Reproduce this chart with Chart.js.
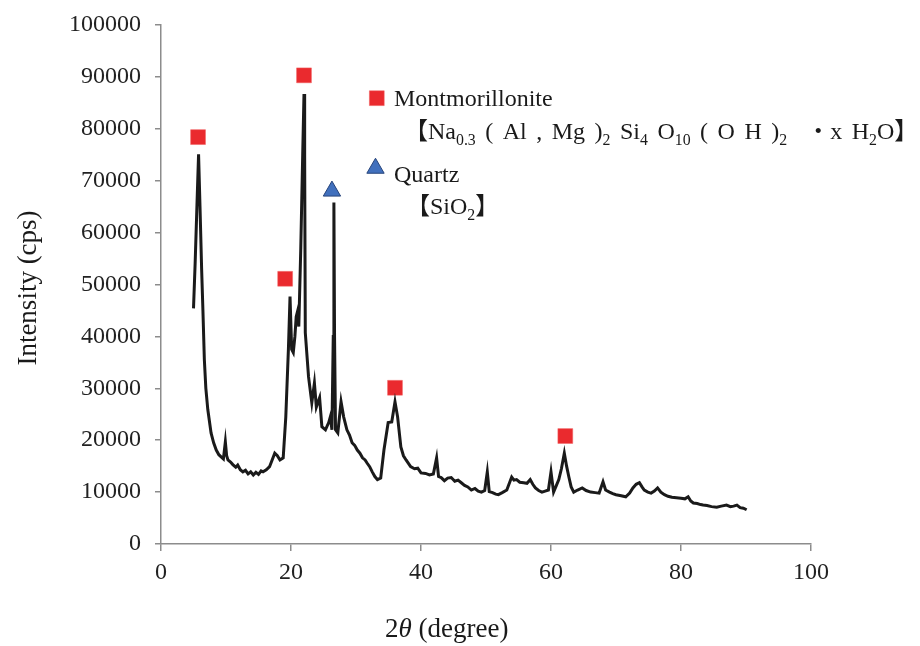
<!DOCTYPE html>
<html lang="en">
<head>
<meta charset="UTF-8">
<title>XRD pattern</title>
<script src="https://cdn.jsdelivr.net/npm/chart.js"></script>
<style>
  html, body { margin: 0; padding: 0; background: #fff; }
  #wrap { width: 920px; height: 646px; position: relative; }
</style>
</head>
<body>
<div id="wrap"><canvas id="xrd"></canvas></div>
<script>
// diffraction pattern
const twoTheta = [5.0, 5.25, 5.5, 5.78, 6.0, 6.25, 6.45, 6.67, 6.9, 7.2, 7.7, 8.1, 8.5, 8.9, 9.25, 9.6, 9.9, 10.1, 10.3, 10.7,
  11.05, 11.5, 11.8, 12.2, 12.6, 13.0, 13.4, 13.8, 14.2, 14.6, 15.0, 15.4, 15.7, 16.2, 16.7, 17.1, 17.5, 17.9, 18.3, 18.8,
  19.2, 19.6, 19.85, 20.1, 20.35, 20.6, 20.8, 21.0, 21.2, 21.5, 21.8, 22.0, 22.1, 22.2, 22.7, 23.2, 23.6, 23.9, 24.4, 24.75,
  25.3, 25.8, 26.05, 26.3, 26.5, 26.6, 26.7, 26.85, 27.2, 27.7, 28.1, 28.6, 29.0, 29.4, 29.8, 30.2, 30.6, 31.0, 31.4, 31.7,
  32.1, 32.5, 32.9, 33.3, 33.8, 34.3, 34.95, 35.5, 36.0, 36.4, 36.9, 37.3, 37.7, 38.4, 39.0, 39.5, 40.0, 40.7, 41.3, 41.9,
  42.4, 42.7, 43.1, 43.6, 44.1, 44.65, 45.2, 45.7, 46.2, 46.7, 47.2, 47.75, 48.3, 48.8, 49.3, 49.8, 50.2, 50.5, 51.0, 51.5,
  51.9, 52.5, 53.2, 53.95, 54.3, 54.7, 55.2, 55.8, 56.3, 56.8, 57.2, 57.6, 58.1, 58.6, 59.1, 59.6, 60.0, 60.4, 60.8, 61.2,
  61.6, 62.05, 62.4, 62.75, 63.1, 63.5, 64.1, 64.8, 65.4, 66.1, 66.8, 67.4, 68.0, 68.4, 69.0, 69.5, 70.0, 70.8, 71.5, 72.1,
  72.6, 73.1, 73.6, 74.0, 74.35, 74.9, 75.4, 75.9, 76.4, 76.9, 77.45, 78.0, 78.6, 79.3, 80.0, 80.6, 81.1, 81.5, 81.9, 82.5,
  83.0, 83.4, 84.0, 84.7, 85.5, 86.2, 87.0, 87.6, 88.1, 88.6, 89.1, 89.6, 90.1];
const intensity = [45400, 54000, 64000, 75100, 65000, 53000, 45000, 35500, 30000, 25900, 21400, 19500, 18100, 17200, 16800, 16400, 19700, 17000, 16200, 15800,
  15300, 14800, 15200, 14300, 13900, 14200, 13500, 13900, 13300, 13800, 13400, 14100, 13900, 14300, 14900, 16200, 17500, 17000, 16200, 16600,
  24500, 37500, 47700, 37500, 36900, 40000, 43800, 44800, 41900, 56800, 75000, 86700, 75000, 40700, 32200, 27200, 31000, 26400, 28200, 22600,
  22000, 23400, 24500, 22000, 40000, 65800, 40000, 22000, 21400, 27400, 24500, 22000, 21000, 19500, 19000, 18100, 17500, 16600, 16200, 15600,
  14900, 13900, 13000, 12400, 12700, 18100, 23400, 23500, 27400, 24500, 18700, 17000, 16200, 14900, 14500, 14600, 13700, 13600, 13300, 13500,
  16600, 13000, 12800, 12200, 12700, 12800, 12100, 12300, 11800, 11300, 11000, 10400, 10700, 10200, 10000, 10300, 13900, 10100, 9900, 9600,
  9500, 9900, 10400, 12900, 12300, 12400, 11900, 11800, 11700, 12400, 11500, 10800, 10300, 10000, 10200, 10400, 13900, 10000, 11200, 12400,
  14500, 17500, 15000, 12900, 11000, 10000, 10400, 10800, 10300, 10000, 9900, 9800, 12000, 10400, 10000, 9700, 9500, 9300, 9100, 9800,
  10800, 11500, 11800, 11000, 10400, 10000, 9800, 10200, 10800, 10000, 9500, 9200, 9000, 8900, 8800, 8700, 9100, 8300, 7900, 7800,
  7600, 7500, 7400, 7200, 7100, 7300, 7500, 7200, 7300, 7500, 7000, 6900, 6600];

// peak markers (the last one of each is the key marker)
const montX = [5.7, 19.1, 22.0, 36.0, 62.2, 33.2];
const montY = [78400, 51100, 90300, 30100, 20800, 85900];
const quartzX = [26.3, 33.0];
const quartzY = [68000, 72400];

const xTicks = [0, 20, 40, 60, 80, 100];

const serif = '"Liberation Serif", "Times New Roman", serif';
const cjk = '"Liberation Serif", "Noto Sans CJK JP", serif';

// parts: [text, isSub, isItalic]; spaces advance by spaceW when given
function drawRich(ctx, x, y, parts, size, spaceW) {
  parts.forEach(function (p) {
    const sub = p[1] === 1;
    const fs = sub ? size * 0.66 : size;
    ctx.font = (p[2] ? 'italic ' : '') + fs + 'px ' + cjk;
    const yy = sub ? y + size * 0.24 : y;
    if (spaceW) {
      p[0].split(' ').forEach(function (w, i) {
        if (i > 0) x += spaceW;
        ctx.fillText(w, x, yy);
        x += ctx.measureText(w).width;
      });
    } else {
      ctx.fillText(p[0], x, yy);
      x += ctx.measureText(p[0]).width;
    }
  });
}

const textPlugin = {
  id: 'texts',
  afterDraw(chart) {
    const ctx = chart.ctx;
    ctx.save();
    ctx.fillStyle = '#1a1a1a';
    ctx.textAlign = 'left';
    ctx.textBaseline = 'alphabetic';
    drawRich(ctx, 394, 106, [['Montmorillonite']], 24);
    drawRich(ctx, 404, 139, [['【Na'], ['0.3', 1], [' ( Al , Mg )'], ['2', 1], [' Si'], ['4', 1], [' O'], ['10', 1],
      [' ( O H )'], ['2', 1], ['  ・x H'], ['2', 1], ['O】']], 24, 9.5);
    drawRich(ctx, 394, 182, [['Quartz']], 24);
    drawRich(ctx, 406, 214, [['【SiO'], ['2', 1], ['】']], 24);

    // axis titles
    drawRich(ctx, 385, 637, [['2'], ['θ', 0, true], [' (degree)']], 27);
    ctx.translate(36, 288);
    ctx.rotate(-Math.PI / 2);
    ctx.textAlign = 'center';
    ctx.font = '27px ' + serif;
    ctx.fillText('Intensity (cps)', 0, 0);
    ctx.restore();
  }
};

const axisGrey = '#8c8c8c';

new Chart(document.getElementById('xrd'), {
  type: 'scatter',
  data: {
    datasets: [
      {
        label: 'pattern',
        data: twoTheta.map((t, i) => ({ x: t, y: intensity[i] })),
        showLine: true,
        borderColor: '#1a1a1a',
        borderWidth: 3,
        pointRadius: 0,
        tension: 0
      },
      {
        label: 'Montmorillonite',
        data: montX.map((t, i) => ({ x: t, y: montY[i] })),
        pointStyle: 'rect',
        pointRadius: 10.5,
        backgroundColor: '#ea2a2e',
        borderColor: '#f06060',
        borderWidth: 0.5
      },
      {
        label: 'Quartz',
        data: quartzX.map((t, i) => ({ x: t, y: quartzY[i] })),
        pointStyle: 'triangle',
        pointRadius: 10,
        backgroundColor: '#4170bd',
        borderColor: '#27447a',
        borderWidth: 1
      }
    ]
  },
  options: {
    responsive: true,
    maintainAspectRatio: false,
    animation: false,
    layout: { padding: { top: 25, right: 109, left: 0, bottom: 0 } },
    plugins: {
      legend: { display: false },
      tooltip: { enabled: false }
    },
    scales: {
      x: {
        type: 'linear',
        min: 0,
        max: 100,
        afterFit(s) { s.height = 102; },
        afterBuildTicks(s) { s.ticks = xTicks.map(v => ({ value: v })); },
        border: { color: axisGrey, width: 1.5 },
        grid: { drawOnChartArea: false, color: axisGrey, lineWidth: 1.5, tickLength: 7 },
        ticks: { color: '#222', padding: 7, font: { family: serif, size: 24 } }
      },
      y: {
        min: 0,
        max: 100000,
        afterFit(s) { s.width = 161; s.paddingTop = 0; },
        border: { color: axisGrey, width: 1.5 },
        grid: { drawOnChartArea: false, color: axisGrey, lineWidth: 1.5, tickLength: 6 },
        ticks: { color: '#222', stepSize: 10000, padding: 14, font: { family: serif, size: 24, lineHeight: 1 },
          callback: v => String(v) }
      }
    }
  },
  plugins: [textPlugin]
});
</script>
</body>
</html>
